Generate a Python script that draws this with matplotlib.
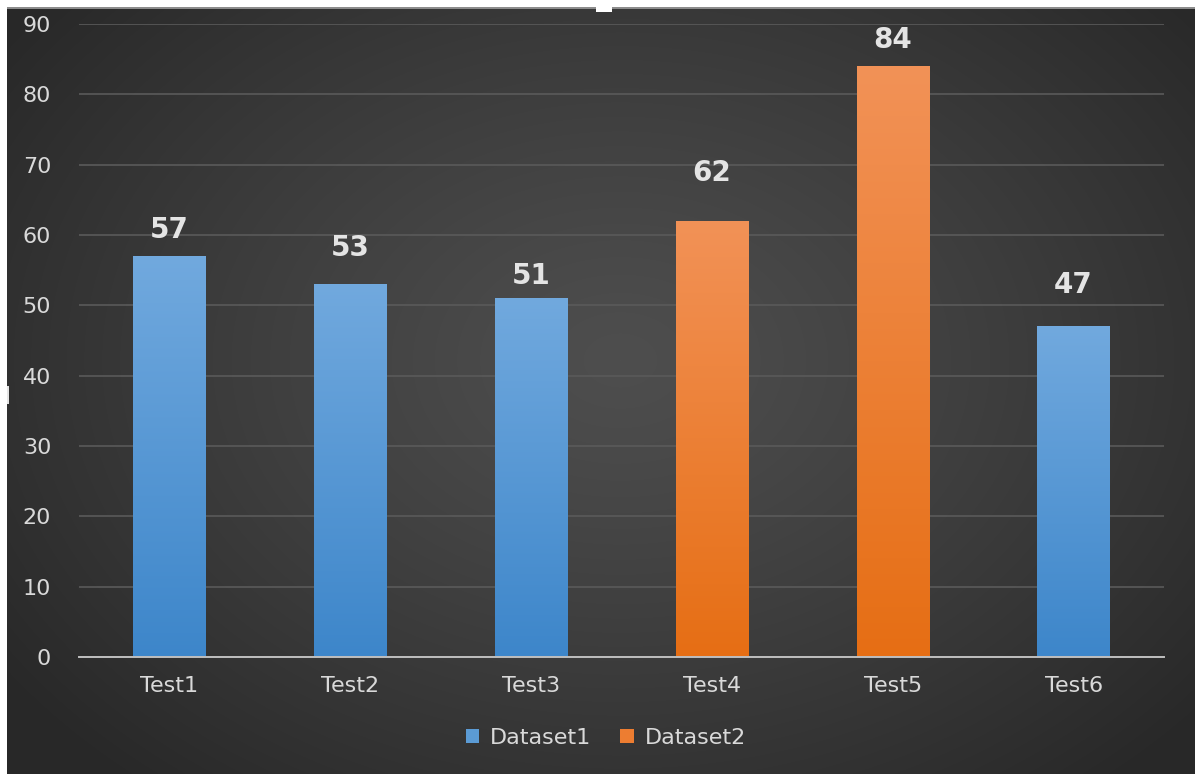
import numpy as np
import matplotlib
matplotlib.use('Agg')
import matplotlib.pyplot as plt
from matplotlib.patches import Patch
from matplotlib.colors import to_rgb

# Data
categories = ['Test1', 'Test2', 'Test3', 'Test4', 'Test5', 'Test6']
values = [57, 53, 51, 62, 84, 47]
series = ['Dataset1', 'Dataset1', 'Dataset1', 'Dataset2', 'Dataset2', 'Dataset1']
series_names = ['Dataset1', 'Dataset2']

# top / bottom colours of the bar gradients
gradients = {
    'Dataset1': ('#71a9de', '#3d86ca'),
    'Dataset2': ('#f29257', '#e66e14'),
}
legend_colors = {'Dataset1': '#5b9bd5', 'Dataset2': '#ed7d31'}

# gap (points) between bar top and its value label
label_gap = [13, 20, 10, 29, 13, 24]

W, H = 1195, 774
fig = plt.figure(figsize=(W / 100, H / 100), dpi=100)

# dark radial background with the white edge strips
bg = fig.add_axes([0, 0, 1, 1])
bg.axis('off')
yy, xx = np.mgrid[0:H, 0:W]
d = np.sqrt(((xx - 620) / 760) ** 2 + ((yy - 360) / 560) ** 2)
shade = (78 - 38 * np.clip(d, 0, 1) ** 1.2) / 255
img = np.dstack([shade] * 3)
img[:7, :] = 1.0
img[7:9, 7:] = 0.55
img[:, :7] = 1.0
img[:12, 596:612] = 1.0
img[386:404, 7:9] = 0.9
bg.imshow(img, extent=(0, W, H, 0), aspect='auto', interpolation='bilinear')
bg.set_xlim(0, W)
bg.set_ylim(H, 0)

ax = fig.add_axes([79 / W, 1 - 657 / H, (1164 - 79) / W, (657 - 24) / H])
ax.patch.set_alpha(0)

x = np.arange(len(categories))
bars = ax.bar(x, values, width=0.4, zorder=3,
              color=[legend_colors[s] for s in series])

# vertical gradient fill clipped to each bar
g = np.linspace(0, 1, 256).reshape(-1, 1, 1)
for bar, s in zip(bars, series):
    top = np.array(to_rgb(gradients[s][0]))
    bottom = np.array(to_rgb(gradients[s][1]))
    fill = top * (1 - g) + bottom * g
    fill = np.repeat(fill, 2, axis=1)
    x0 = bar.get_x()
    im = ax.imshow(fill, extent=(x0, x0 + bar.get_width(), 0, bar.get_height()),
                   aspect='auto', origin='upper', zorder=4)
    im.set_clip_path(bar)

for xi, v, gap in zip(x, values, label_gap):
    ax.annotate(str(v), (xi, v), xytext=(0, gap), textcoords='offset points',
                ha='center', va='baseline', fontsize=20, fontweight='bold',
                color='#e4e4e4', zorder=5)

ax.set_xlim(-0.5, len(categories) - 0.5)
ax.set_ylim(0, 90)
ax.set_aspect('auto')
ax.set_xticks(x)
ax.set_xticklabels(categories)
ax.set_yticks(range(0, 91, 10))
ax.yaxis.grid(True, color='#5a5a5a', linewidth=1.2)
ax.set_axisbelow(True)
for side in ['top', 'right', 'left']:
    ax.spines[side].set_visible(False)
ax.spines['bottom'].set_color('#bfbfbf')
ax.spines['bottom'].set_linewidth(1.4)
ax.spines['bottom'].set_zorder(6)
ax.tick_params(axis='both', length=0, labelsize=16, colors='#d9d9d9')
ax.tick_params(axis='y', pad=20)
ax.tick_params(axis='x', pad=14)

handles = [Patch(facecolor=legend_colors[n], label=n) for n in series_names]
fig.legend(handles=handles, loc='center', bbox_to_anchor=(606 / W, 1 - 738 / H),
           ncol=2, frameon=False, fontsize=16, handlelength=0.6, handleheight=0.6,
           handletextpad=0.5, columnspacing=1.3, labelcolor='#d9d9d9')

fig.savefig('out.png', dpi=100)
